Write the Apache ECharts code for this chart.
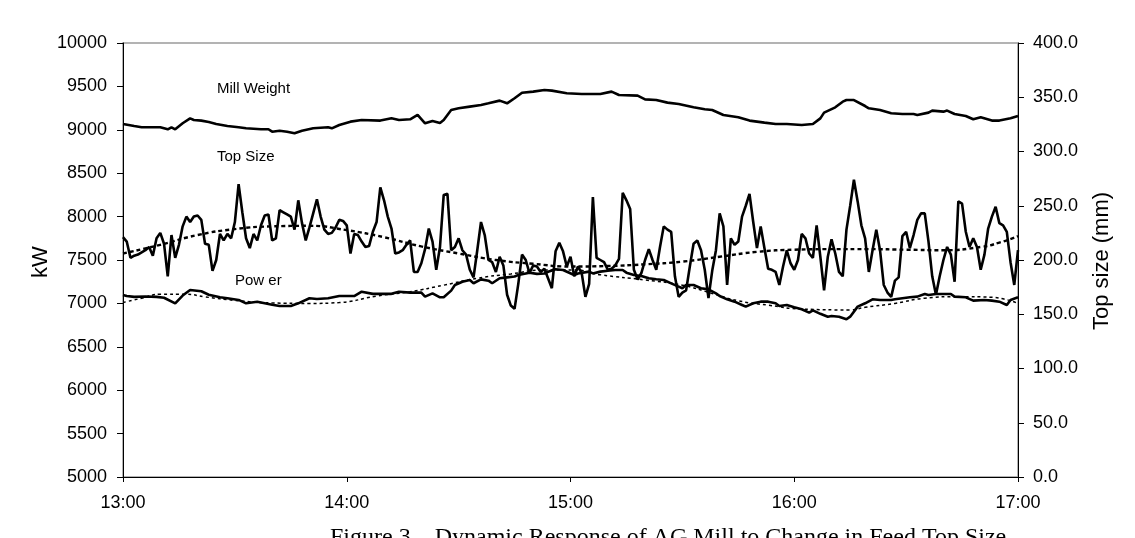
<!DOCTYPE html>
<html>
<head>
<meta charset="utf-8">
<script src="https://cdn.jsdelivr.net/npm/echarts/dist/echarts.min.js"></script>
<style>
  body { margin: 0; background: #fff; }
  #chart { width: 1135px; height: 538px; }
</style>
</head>
<body>
<div id="chart"></div>
<script>
// minutes after 13:00
const hourTicks = ['13:00', '14:00', '15:00', '16:00', '17:00'];

// top size (mm), one reading per minute, right axis
const topSizeMm = [
  221,217,202,204,205,207,209,212,204,220,
  225,215,185,223,202,214,231,240,235,240,
  241,237,215,214,190,200,224,218,224,220,
  235,270,244,220,211,224,218,232,241,242,
  218,220,246,244,242,240,228,255,234,218,
  230,243,256,240,228,224,225,230,237,236,
  232,206,224,223,217,212,213,226,235,267,
  255,240,229,206,207,209,214,218,189,189,
  197,210,229,217,191,212,260,261,209,212,
  220,209,205,191,184,209,235,223,200,198,
  189,203,195,168,158,155,178,205,200,188,
  195,194,189,192,183,174,208,216,208,194,
  203,185,194,188,166,178,258,202,200,198,
  191,192,195,201,262,255,247,191,182,188,
  200,210,200,191,212,231,228,226,185,166,
  170,172,194,215,218,209,191,165,190,209,
  243,231,177,220,214,217,240,250,261,235,
  211,231,211,192,191,189,177,194,209,197,
  191,200,224,220,206,202,232,203,172,203,
  219,206,189,185,228,250,274,254,232,220,
  189,209,228,209,177,170,166,181,184,222,
  226,211,223,237,243,243,217,185,168,185,
  200,212,205,180,254,252,226,212,220,212,
  191,205,229,240,249,234,232,226,198,177,
  209
];

const powerMin = [0,1,3,6,9,11,14,16,18,21,23,26,28,31,33,36,38,40,42,45,47,50,52,55,58,60,62,64,67,70,72,74,77,80,81,83,85,86,88,89,91,93,94,96,98,99,101,103,105,106,108,109,111,113,114,116,118,121,122,125,126,128,130,132,134,135,137,139,141,143,145,147,149,150,151,153,155,157,159,160,162,164,166,167,169,171,173,175,176,178,180,182,184,185,187,189,190,192,194,195,197,199,201,203,206,207,209,211,213,215,216,218,222,223,226,228,231,233,235,237,238,240];
const powerKw = [7097,7085,7075,7080,7075,7065,7001,7090,7155,7140,7100,7070,7060,7040,7001,7020,7001,6985,6970,6970,7001,7059,7050,7059,7085,7085,7085,7135,7110,7110,7110,7135,7124,7124,7078,7115,7070,7070,7147,7212,7250,7270,7232,7277,7262,7232,7290,7300,7310,7327,7345,7354,7340,7345,7365,7393,7385,7327,7345,7366,7345,7366,7377,7385,7385,7354,7327,7316,7289,7278,7270,7231,7193,7174,7212,7212,7174,7162,7116,7085,7047,7020,6982,6963,7001,7020,7020,7001,6970,6982,6955,6932,6893,6920,6880,6847,6855,6847,6817,6847,6963,7001,7047,7040,7040,7047,7059,7070,7078,7109,7097,7109,7109,7078,7070,7032,7040,7032,7020,6982,7040,7070];

const millMin = [0,3,5,10,12,13,14,16,18,19,21,23,25,28,31,33,37,39,40,42,44,46,48,51,55,56,58,61,64,69,72,74,77,79,81,83,85,86,88,90,93,96,98,101,103,105,107,110,113,115,119,123,128,131,133,138,140,143,146,149,153,156,158,161,165,168,172,175,178,182,185,187,188,191,193,194,196,199,200,203,206,209,212,213,216,217,220,221,223,226,228,230,233,235,238,240];
const millWeight = [9067,9044,9029,9029,9006,9029,9006,9075,9132,9113,9106,9090,9067,9044,9029,9017,9006,9006,8978,8990,8978,8960,8990,9017,9029,9017,9055,9094,9113,9106,9132,9113,9121,9171,9075,9102,9079,9113,9228,9248,9267,9286,9305,9336,9305,9363,9427,9440,9459,9451,9421,9413,9413,9440,9401,9394,9351,9344,9313,9298,9259,9236,9228,9171,9144,9106,9083,9067,9067,9055,9067,9132,9198,9259,9324,9343,9343,9274,9248,9228,9190,9182,9182,9171,9198,9221,9209,9221,9182,9159,9121,9144,9106,9106,9132,9159];

// trend lines
const topTrendMin = [0,10,20,30,40,50,60,70,80,90,100,110,120,130,140,150,160,170,180,190,200,210,220,230,235,240];
const topTrendMm = [206,214,223,228.5,231,231.5,227.5,221,212.5,206,200,196.5,194,194.5,196,198.5,203,207.5,209.5,210,210,209.5,209,212,216,222];
const powerTrendMin = [0,5,10,17,22,30,40,50,58,68,77,86,95,104,113,121,128,140,150,158,165,173,182,195,199,207,215,224,233,240];
const powerTrendKw = [7010,7060,7105,7105,7075,7035,7005,7000,7010,7085,7135,7210,7290,7340,7385,7385,7330,7270,7210,7115,7030,6980,6935,6925,6955,7000,7060,7078,7070,7000];

const pairs = (xs, ys) => ys.map((v, i) => [xs[i], v]);
const FONT = 'Liberation Sans, Arial, sans-serif';

var myChart = echarts.init(document.getElementById('chart'));
myChart.setOption({
  animation: false,
  backgroundColor: '#fff',
  grid: { left: 123, right: 117, top: 43, bottom: 61, show: true, borderColor: '#9a9a9a', borderWidth: 1.5 },
  xAxis: {
    type: 'value', min: 0, max: 240, interval: 60,
    axisLine: { lineStyle: { color: '#000', width: 1 } },
    axisTick: { length: 5, lineStyle: { color: '#000' } },
    splitLine: { show: false },
    axisLabel: {
      margin: 17, fontSize: 18, color: '#000', fontFamily: FONT,
      formatter: v => hourTicks[v / 60]
    }
  },
  yAxis: [
    {
      type: 'value', min: 5000, max: 10000, interval: 500,
      axisLine: { show: true, lineStyle: { color: '#000', width: 1 } },
      axisTick: { show: true, length: 6, lineStyle: { color: '#000' } },
      splitLine: { show: false },
      axisLabel: { margin: 16, fontSize: 18, color: '#000', fontFamily: FONT, formatter: v => String(v) }
    },
    {
      type: 'value', min: 0, max: 400, interval: 50, position: 'right',
      axisLine: { show: true, lineStyle: { color: '#000', width: 1 } },
      axisTick: { show: true, length: 6, lineStyle: { color: '#000' } },
      splitLine: { show: false },
      axisLabel: { margin: 15, fontSize: 18, color: '#000', fontFamily: FONT, formatter: v => v.toFixed(1) }
    }
  ],
  series: [
    {
      name: 'Mill Weight', type: 'line', yAxisIndex: 0, symbol: 'none',
      data: pairs(millMin, millWeight),
      lineStyle: { color: '#000', width: 2.6 }
    },
    {
      name: 'Power', type: 'line', yAxisIndex: 0, symbol: 'none',
      data: pairs(powerMin, powerKw),
      lineStyle: { color: '#000', width: 2.6 }
    },
    {
      name: 'Top Size', type: 'line', yAxisIndex: 1, symbol: 'none',
      data: topSizeMm.map((v, i) => [i, v]),
      lineStyle: { color: '#000', width: 2.6 }
    },
    {
      name: 'Top Size trend', type: 'line', yAxisIndex: 1, symbol: 'none', smooth: true,
      data: pairs(topTrendMin, topTrendMm),
      lineStyle: { color: '#000', width: 2.4, type: [4, 3] }
    },
    {
      name: 'Power trend', type: 'line', yAxisIndex: 0, symbol: 'none', smooth: true,
      data: pairs(powerTrendMin, powerTrendKw),
      lineStyle: { color: '#000', width: 1.5, type: [3, 3] }
    }
  ],
  graphic: [
    { type: 'text', left: 217, top: 81, style: { text: 'Mill Weight', font: '15px ' + FONT, fill: '#000' } },
    { type: 'text', left: 217, top: 149, style: { text: 'Top Size', font: '15px ' + FONT, fill: '#000' } },
    { type: 'text', left: 235, top: 273, style: { text: 'Pow er', font: '15px ' + FONT, fill: '#000' } },
    { type: 'text', x: 41, y: 262, rotation: Math.PI / 2,
      style: { text: 'kW', font: '22px ' + FONT, fill: '#000', align: 'center', verticalAlign: 'middle' } },
    { type: 'text', x: 1102, y: 261, rotation: Math.PI / 2,
      style: { text: 'Top size (mm)', font: '22px ' + FONT, fill: '#000', align: 'center', verticalAlign: 'middle' } },
    { type: 'text', left: 330, top: 526,
      style: { text: 'Figure 3 – Dynamic Response of AG Mill to Change in Feed Top Size', font: '24px Liberation Serif, Times New Roman, serif', fill: '#000' } }
  ]
});
</script>
</body>
</html>
